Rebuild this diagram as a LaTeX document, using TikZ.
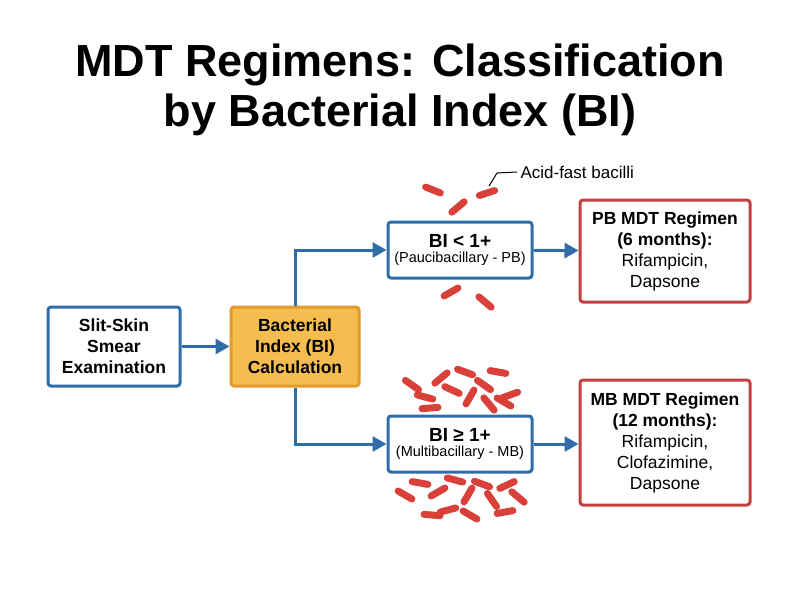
\documentclass[tikz,border=0pt]{standalone}
\usepackage{fontspec}
\setmainfont{Liberation Sans}
\usetikzlibrary{arrows.meta}
\definecolor{bl}{HTML}{2E6DA8}
\definecolor{rd}{HTML}{C0413D}
\definecolor{bac}{HTML}{D9403A}
\definecolor{or}{HTML}{F5BD4F}
\definecolor{ord}{HTML}{E39A2A}
\begin{document}
\begin{tikzpicture}[x=1pt,y=-1pt,
 box/.style={draw=bl,line width=3pt,fill=white,rounded corners=3pt,align=center},
 rbox/.style={draw=rd,line width=3pt,fill=white,rounded corners=3pt,align=center},
 arr/.style={draw=bl,line width=3pt,-{Triangle[length=14pt,width=15pt]}},
 bacil/.style={draw=bac,line width=7pt,line cap=round}]
\useasboundingbox (0,0) rectangle (800,600);
\node[font=\bfseries\fontsize{45}{50}\selectfont,align=center] (title) at (400,90) {MDT Regimens: Classification\\by Bacterial Index (BI)};
\node[box,minimum width=132pt,minimum height=79pt,font=\bfseries\fontsize{17.5}{21}\selectfont] (slit) at (114,346.5) {Slit-Skin\\Smear\\Examination};
\node[box,draw=ord,fill=or,minimum width=128pt,minimum height=79pt,font=\bfseries\fontsize{17.5}{21}\selectfont] (bi) at (295,346.5) {Bacterial\\Index (BI)\\Calculation};
\node[box,minimum width=144pt,minimum height=56pt] (pb) at (460,250) {{\bfseries\fontsize{19}{20}\selectfont BI < 1+}\\[3pt]{\fontsize{14.5}{16}\selectfont (Paucibacillary - PB)}};
\node[box,minimum width=144pt,minimum height=56pt] (mb) at (460,444) {{\bfseries\fontsize{19}{20}\selectfont BI ≥ 1+}\\[3pt]{\fontsize{14.5}{16}\selectfont (Multibacillary - MB)}};
\node[rbox,minimum width=170pt,minimum height=102pt,font=\fontsize{17.5}{21}\selectfont] (pbr) at (665,251) {\textbf{PB MDT Regimen}\\\textbf{(6 months):}\\Rifampicin,\\Dapsone};
\node[rbox,minimum width=170pt,minimum height=125pt,font=\fontsize{17.5}{21}\selectfont] (mbr) at (665,442.5) {\textbf{MB MDT Regimen}\\\textbf{(12 months):}\\Rifampicin,\\Clofazimine,\\Dapsone};
\draw[arr] (slit) -- (bi);
\draw[arr] (bi.north) |- (pb.west);
\draw[arr] (bi.south) |- (mb.west);
\draw[arr] (pb) -- (pbr);
\draw[arr] (mb.east) -- (mbr.west|-mb.east);
\node[font=\fontsize{17}{20}\selectfont,anchor=west] (lab) at (517,172) {Acid-fast bacilli};
\coordinate (lk) at (489,186);
\draw[line width=1pt] (lk) -- (497,173) -- (lab.west);
\foreach \x/\y/\a in {433/190/22,458/207/-40,487/193/-18,451/292/-30,485/302/40,
 412/385/35,425/397/15,441/378/-40,452/390/25,465/372/20,470/397/-60,484/385/35,498/372/10,510/395/-20,489/404/50,430/408/-5,504/402/30,
 405/495/30,420/483/10,438/492/-30,448/510/-15,455/480/15,468/495/-60,482/484/20,492/500/55,507/485/-25,518/497/40,470/515/30,432/515/5,505/512/-10}
 \draw[bacil] (\x,\y) ++(\a:-8) -- ++(\a:16);
\end{tikzpicture}
\end{document}
